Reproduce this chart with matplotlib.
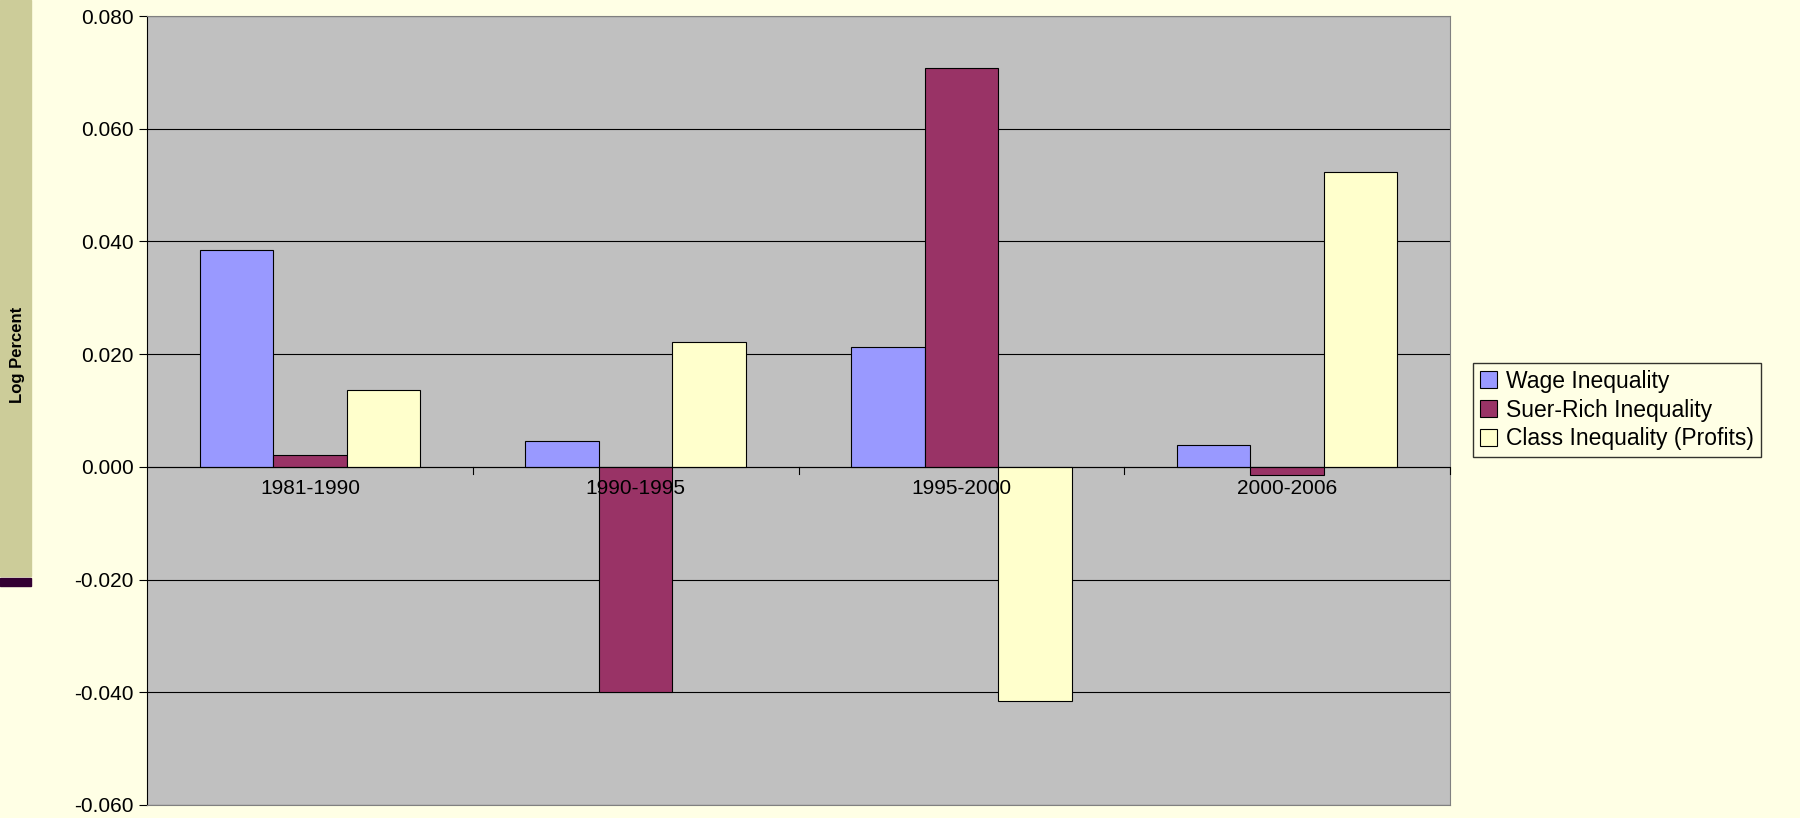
import numpy as np
import matplotlib
matplotlib.use("Agg")
import matplotlib.pyplot as plt
from matplotlib.patches import Rectangle

plt.rcParams["font.family"] = ["Liberation Sans", "DejaVu Sans"]

periods = ["1981-1990", "1990-1995", "1995-2000", "2000-2006"]
wage = [0.0384, 0.0046, 0.0213, 0.0038]
super_rich = [0.0021, -0.0400, 0.0708, -0.0015]
class_ineq = [0.0137, 0.0221, -0.0415, 0.0523]
series_names = ["Wage Inequality", "Suer-Rich Inequality", "Class Inequality (Profits)"]
colors = ["#9999FF", "#993366", "#FFFFCC"]

W, H = 1800, 818
fig = plt.figure(figsize=(18, 8.18), dpi=100, facecolor="#FFFFE5")
# left decorative strip
fig.patches.append(Rectangle((0, 1 - 576 / H), 31 / W, 576 / H,
                             transform=fig.transFigure, color="#CCCC99", zorder=-5))
fig.patches.append(Rectangle((0, 1 - 586 / H), 31 / W, 8 / H,
                             transform=fig.transFigure, color="#330033", zorder=-5))

ax = fig.add_axes([147 / W, 1 - 805 / H, 1303 / W, 789 / H])
ax.set_facecolor("#C0C0C0")

x = np.arange(len(periods))
w = 0.2256
for i, (vals, name, c) in enumerate(zip([wage, super_rich, class_ineq], series_names, colors)):
    ax.bar(x + (i - 1) * w, vals, width=w, color=c, edgecolor="black", linewidth=0.8,
           label=name, zorder=3)

ax.set_xlim(-0.5, 3.5)
ax.set_ylim(-0.06, 0.08)
yt = np.arange(-0.06, 0.0801, 0.02)
ax.set_yticks(yt)
ax.set_yticklabels([f"{v:.3f}" for v in yt], fontsize=15)
ax.yaxis.grid(True, color="black", linewidth=0.8, zorder=1)
ax.tick_params(axis="y", direction="out", length=6)

for s in ["top", "right", "bottom"]:
    ax.spines[s].set_color("#808080")
ax.spines["left"].set_color("black")

# category axis at zero
ax.axhline(0, color="black", linewidth=0.8, zorder=4)
ax.set_xticks([])
for b in [0.5, 1.5, 2.5, 3.5]:
    ax.plot([b, b], [0, -0.0012], color="black", linewidth=0.8, zorder=4, clip_on=False)
for xi, p in zip(x, periods):
    ax.text(xi, -0.0022, p, ha="center", va="top", fontsize=15, zorder=5)

fig.text(18 / W, 1 - 355 / H, "Log Percent", rotation=90, ha="center", va="center",
         fontsize=12, fontweight="bold", zorder=10)

leg = fig.legend(loc="upper left", bbox_to_anchor=(1473 / W, 1 - 363 / H),
                 fontsize=16.5, frameon=True, fancybox=False, edgecolor="black",
                 borderpad=0.3, handlelength=0.75, handleheight=0.75, handletextpad=0.4,
                 labelspacing=0.25, borderaxespad=0)
leg.get_frame().set_facecolor("#FFFFE5")

fig.savefig("out.png", dpi=100, facecolor=fig.get_facecolor())
